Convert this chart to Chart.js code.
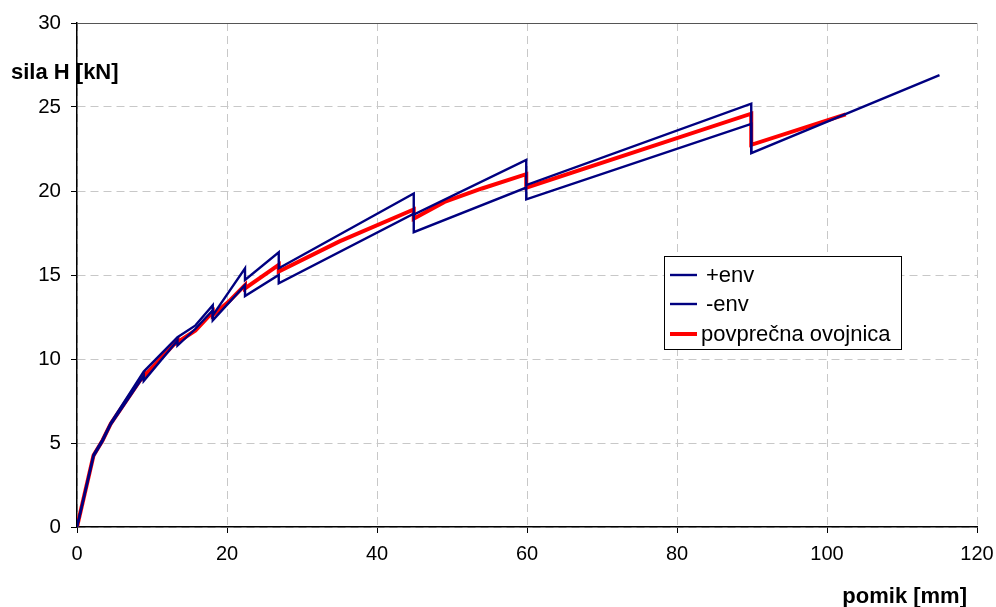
<!DOCTYPE html>
<html>
<head>
<meta charset="utf-8">
<script src="https://cdn.jsdelivr.net/npm/chart.js@4/dist/chart.umd.min.js"></script>
<style>
  html, body { margin: 0; padding: 0; background: #fff; }
  canvas { display: block; }
</style>
</head>
<body>
<canvas id="c" width="996" height="607"></canvas>
<script>
// pomik [mm] / sila H [kN]
const plusEnvX  = [0, 2.2, 3.4, 4.5, 8.9, 13.4, 15.8, 18.1, 18.1, 22.4, 22.4, 26.9, 26.9, 44.9, 44.9, 59.9, 59.9, 89.9, 89.9, 115];
const plusEnvY  = [0, 4.3, 5.2, 6.2, 9.25, 11.3, 12.0, 13.2, 12.6, 15.4, 14.7, 16.35, 15.4, 19.85, 18.6, 21.85, 20.35, 25.2, 22.25, 26.9];

const minusEnvX = [0, 2.2, 3.4, 4.5, 8.9, 8.9, 13.4, 13.4, 15.8, 18.1, 18.1, 22.4, 22.4, 26.9, 26.9, 44.9, 44.9, 59.9, 59.9, 89.9, 89.9];
const minusEnvY = [0, 4.2, 5.1, 6.1, 9.0, 8.7, 11.1, 10.8, 11.8, 12.9, 12.3, 14.4, 13.75, 15.0, 14.5, 18.65, 17.55, 20.2, 19.5, 24.0, 22.3];

const avgX = [0, 2.2, 3.4, 4.5, 8.9, 8.9, 13.4, 13.4, 15.8, 18.1, 18.1, 20.2, 22.4, 22.4, 26.9, 26.9, 35.0, 44.9, 44.9, 49.0, 54.0, 59.9, 59.9, 89.9, 89.9, 102.5];
const avgY = [0, 4.25, 5.15, 6.15, 9.05, 8.95, 11.1, 11.0, 11.7, 12.8, 12.6, 13.4, 14.4, 14.2, 15.6, 15.2, 17.0, 18.9, 18.35, 19.35, 20.15, 21.0, 20.2, 24.6, 22.75, 24.56];

const seriesLabels = ['+env', '-env', 'povprečna ovojnica'];
const xTitle = 'pomik [mm]';
const yTitle = 'sila H [kN]';

const pts = (xs, ys) => xs.map((x, i) => ({ x: x, y: ys[i] }));

const FONT = 'Arial, "Liberation Sans", sans-serif';

const extras = {
    id: 'extras',
    afterDraw(chart) {
        const { ctx, chartArea: a } = chart;
        ctx.save();
        // top border line
        ctx.strokeStyle = '#555';
        ctx.lineWidth = 1;
        ctx.beginPath();
        ctx.moveTo(a.left, a.top + 0.5);
        ctx.lineTo(a.right, a.top + 0.5);
        ctx.stroke();

        // axis titles
        ctx.fillStyle = '#000';
        ctx.font = 'bold 22px ' + FONT;
        ctx.textBaseline = 'middle';
        ctx.textAlign = 'left';
        ctx.fillText(yTitle, 11, 73);
        ctx.textAlign = 'right';
        ctx.fillText(xTitle, 967, 597);

        // legend box
        const bx = 664, by = 256, bw = 237, bh = 93;
        ctx.fillStyle = '#fff';
        ctx.fillRect(bx, by, bw, bh);
        ctx.strokeStyle = '#000';
        ctx.lineWidth = 1;
        ctx.strokeRect(bx + 0.5, by + 0.5, bw, bh);
        const rows = [275, 304, 334];
        chart.data.datasets.forEach((ds, i) => {
            ctx.strokeStyle = ds.borderColor;
            ctx.lineWidth = ds.borderWidth;
            ctx.beginPath();
            ctx.moveTo(670, rows[i]);
            ctx.lineTo(697, rows[i]);
            ctx.stroke();
            ctx.fillStyle = '#000';
            ctx.font = '22px ' + FONT;
            ctx.textAlign = 'left';
            ctx.textBaseline = 'middle';
            ctx.fillText(ds.label, i === 2 ? 701 : 706, rows[i] + 1);
        });
        ctx.restore();
    }
};

new Chart(document.getElementById('c'), {
    type: 'scatter',
    data: {
        datasets: [
            { label: seriesLabels[0], data: pts(plusEnvX, plusEnvY), borderColor: '#000080', borderWidth: 2.4 },
            { label: seriesLabels[1], data: pts(minusEnvX, minusEnvY), borderColor: '#000080', borderWidth: 2.4 },
            { label: seriesLabels[2], data: pts(avgX, avgY), borderColor: '#ff0000', borderWidth: 4 },
        ].map(d => Object.assign(d, { showLine: true, pointRadius: 0, fill: false, tension: 0, borderJoinStyle: 'miter' }))
    },
    options: {
        responsive: false,
        animation: false,
        devicePixelRatio: 1,
        layout: { padding: { top: 23, right: 19, left: 0, bottom: 0 } },
        plugins: { legend: { display: false }, tooltip: { enabled: false } },
        scales: {
            x: {
                type: 'linear', min: 0, max: 120,
                ticks: { stepSize: 20, color: '#000', font: { family: FONT, size: 20 }, padding: 9, maxRotation: 0 },
                grid: { color: '#c8c8c8', tickColor: '#000', tickLength: 6, lineWidth: 1 },
                border: { color: '#000', width: 1.5, dash: [8, 5] },
                afterFit: s => { s.height = 80; s.paddingRight = 0; s.paddingLeft = 0; }
            },
            y: {
                type: 'linear', min: 0, max: 30,
                ticks: { stepSize: 5, color: '#000', font: { family: FONT, size: 20.5 }, padding: 10 },
                grid: { color: '#c8c8c8', tickColor: '#000', tickLength: 6, lineWidth: 1 },
                border: { color: '#000', width: 1.5, dash: [8, 5] },
                afterFit: s => { s.width = 77; s.paddingTop = 0; s.paddingBottom = 0; }
            }
        }
    },
    plugins: [extras]
});
</script>
</body>
</html>
